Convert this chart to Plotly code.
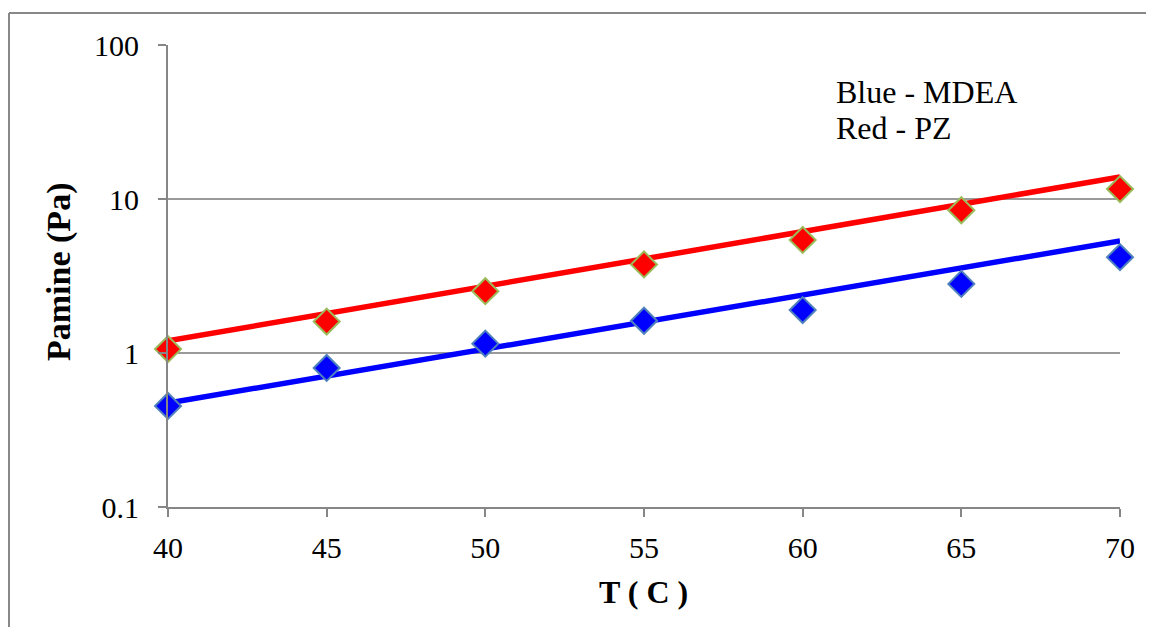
import plotly.graph_objects as go

# Data
T = [40, 45, 50, 55, 60, 65, 70]
mdea_p = [0.453, 0.80, 1.15, 1.62, 1.90, 2.81, 4.19]
pz_p = [1.06, 1.60, 2.52, 3.76, 5.42, 8.45, 11.6]
trend_T = [40, 70]
mdea_trend = [0.473, 5.34]
pz_trend = [1.20, 13.9]
y_tickvals = [0.1, 1, 10, 100]
y_ticktext = ["0.1", "1", "10", "100"]
x_tickvals = [40, 45, 50, 55, 60, 65, 70]

FONT = "Liberation Serif, Times New Roman, serif"

fig = go.Figure()
fig.add_trace(go.Scatter(x=trend_T, y=mdea_trend, mode="lines",
                         line=dict(color="#0000FF", width=5.5), showlegend=False,
                         cliponaxis=False))
fig.add_trace(go.Scatter(x=trend_T, y=pz_trend, mode="lines",
                         line=dict(color="#FF0000", width=5.5), showlegend=False,
                         cliponaxis=False))
fig.add_trace(go.Scatter(x=T, y=mdea_p, mode="markers",
                         marker=dict(symbol="diamond", size=20, color="#0000FF",
                                     line=dict(color="#4F81BD", width=2)),
                         showlegend=False, cliponaxis=False))
fig.add_trace(go.Scatter(x=T, y=pz_p, mode="markers",
                         marker=dict(symbol="diamond", size=20, color="#FF0000",
                                     line=dict(color="#9BBB59", width=2)),
                         showlegend=False, cliponaxis=False))

# page coordinates of the plot area (page body has an 8px offset)
W, H = 952, 462
L, Tm = 168, 45

def px(x):
    return (x - L) / W

def py(y):
    return (Tm + H - y) / H

border = dict(color="#888888", width=2)

fig.update_layout(
    width=1146, height=619,
    margin=dict(l=160, r=34, t=37, b=120),
    paper_bgcolor="white", plot_bgcolor="white",
    font=dict(family=FONT, color="black", size=30),
    xaxis=dict(range=[40, 70], tickvals=x_tickvals, showgrid=False,
               showline=True, linecolor="#868686", linewidth=2,
               ticks="outside", ticklen=8, tickwidth=2, tickcolor="#868686",
               tickfont=dict(size=30), ticklabelstandoff=5, zeroline=False),
    yaxis=dict(type="log", range=[-1, 2], tickvals=y_tickvals, ticktext=y_ticktext,
               showgrid=True, gridcolor="#9A9A9A", gridwidth=1.5,
               showline=True, linecolor="#868686", linewidth=2,
               ticks="outside", ticklen=8, tickwidth=2, tickcolor="#868686",
               tickfont=dict(size=30), ticklabelstandoff=13, zeroline=False),
    shapes=[
        dict(type="line", xref="paper", yref="paper",
             x0=px(9), x1=px(9), y0=py(640), y1=py(13), line=border, layer="below"),
        dict(type="line", xref="paper", yref="paper",
             x0=px(9), x1=px(1160), y0=py(13), y1=py(13), line=border, layer="below"),
    ],
    annotations=[
        dict(text="<b>T ( C )</b>", xref="paper", yref="paper", x=px(643), y=py(592),
             showarrow=False, xanchor="center", yanchor="middle", font=dict(size=32)),
        dict(text="<b>Pamine (Pa)</b>", xref="paper", yref="paper", x=px(59), y=py(272),
             showarrow=False, xanchor="center", yanchor="middle", textangle=-90,
             font=dict(size=34)),
        dict(text="Blue - MDEA", xref="paper", yref="paper", x=px(834), y=py(92),
             showarrow=False, xanchor="left", yanchor="middle", font=dict(size=32)),
        dict(text="Red - PZ", xref="paper", yref="paper", x=px(834), y=py(128),
             showarrow=False, xanchor="left", yanchor="middle", font=dict(size=32)),
    ],
)

fig.write_html("out.html")
